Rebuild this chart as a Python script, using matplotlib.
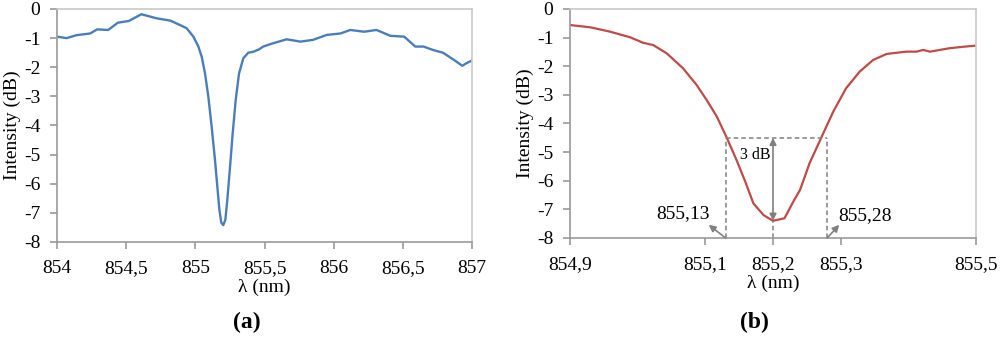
import matplotlib
matplotlib.use("Agg")
import matplotlib.pyplot as plt

plt.rcParams['font.family'] = ['Liberation Serif', 'DejaVu Serif']

# Panel (a) data
wl_a = [854.00, 854.07, 854.14, 854.24, 854.29, 854.37, 854.44, 854.52, 854.61, 854.72,
        854.82, 854.889, 854.937, 854.986, 855.022, 855.046, 855.070, 855.094, 855.118,
        855.142, 855.159, 855.174, 855.188, 855.202, 855.217, 855.231, 855.251, 855.270,
        855.292, 855.316, 855.347, 855.383, 855.419, 855.463, 855.49, 855.56,
        855.66, 855.76, 855.85, 855.95, 856.05, 856.12, 856.22, 856.31, 856.41, 856.51,
        856.59, 856.65, 856.72, 856.79, 856.87, 856.93, 856.96, 857.00]
int_a = [-0.95, -1.00, -0.90, -0.84, -0.70, -0.72, -0.47, -0.41, -0.18, -0.32,
         -0.40, -0.55, -0.66, -0.95, -1.29, -1.64, -2.21, -3.01, -4.04,
         -5.18, -6.10, -6.90, -7.34, -7.42, -7.24, -6.56, -5.41, -4.27,
         -3.12, -2.21, -1.69, -1.50, -1.47, -1.38, -1.29, -1.18,
         -1.04, -1.12, -1.06, -0.89, -0.84, -0.72, -0.78, -0.72, -0.92, -0.95,
         -1.29, -1.29, -1.41, -1.50, -1.75, -1.95, -1.86, -1.77]

# Panel (b) data
wl_b = [854.900, 854.930, 854.959, 854.989, 855.008, 855.023, 855.043, 855.067, 855.087,
        855.102, 855.117, 855.131, 855.146, 855.159, 855.171, 855.186, 855.200, 855.217,
        855.230, 855.240, 855.254, 855.272, 855.289, 855.308, 855.328, 855.348, 855.368,
        855.397, 855.412, 855.422, 855.432, 855.461, 855.481, 855.500]
int_b = [-0.56, -0.64, -0.79, -0.99, -1.18, -1.26, -1.55, -2.07, -2.65,
         -3.18, -3.76, -4.46, -5.27, -6.03, -6.79, -7.20, -7.40, -7.31,
         -6.73, -6.32, -5.39, -4.46, -3.59, -2.77, -2.19, -1.78, -1.57,
         -1.49, -1.49, -1.43, -1.49, -1.37, -1.32, -1.28]

xticks_a = [854, 854.5, 855, 855.5, 856, 856.5, 857]
xlabels_a = ['854', '854,5', '855', '855,5', '856', '856,5', '857']
xticks_b = [854.9, 855.1, 855.2, 855.3, 855.5]
xlabels_b = ['854,9', '855,1', '855,2', '855,3', '855,5']
yticks = [0, -1, -2, -3, -4, -5, -6, -7, -8]
ylabels = ['0', '-1', '-2', '-3', '-4', '-5', '-6', '-7', '-8']

fwhm_left, fwhm_right, center, half_level, min_level = 855.13, 855.28, 855.2, -4.5, -7.40

fig = plt.figure(figsize=(10, 3.37), dpi=100)
ax1 = fig.add_axes([0.057, 0.2819, 0.415, 0.6914])
ax2 = fig.add_axes([0.570, 0.2938, 0.406, 0.6795])

fs = 14
for ax in (ax1, ax2):
    ax.set_ylim(-8, 0)
    ax.set_yticks(yticks)
    ax.set_yticklabels(ylabels, fontsize=fs)
    for s in ('top', 'right'):
        ax.spines[s].set_color('#c8c8c8')
    for s in ('left', 'bottom'):
        ax.spines[s].set_color('#9a9a9a')
    for s in ax.spines.values():
        s.set_linewidth(1.2)
    ax.tick_params(axis='both', direction='out', length=5, width=1.2, color='#9a9a9a')
    ax.tick_params(axis='x', pad=8)
    ax.tick_params(axis='y', pad=7)
    ax.set_ylabel('Intensity (dB)', fontsize=fs, labelpad=2)
    ax.set_xlabel('λ (nm)', fontsize=fs, labelpad=1)

ax1.plot(wl_a, int_a, color='#4a7ebb', lw=1.7)
ax1.set_xlim(854, 857)
ax1.set_xticks(xticks_a)
ax1.set_xticklabels(xlabels_a, fontsize=fs)

ax2.plot(wl_b, int_b, color='#be4b48', lw=1.6)
ax2.set_xlim(854.9, 855.5)
ax2.set_xticks(xticks_b)
ax2.set_xticklabels(xlabels_b, fontsize=fs)

gray = '#808080'
dash = dict(color=gray, lw=1.1, dashes=(3, 2))
ax2.plot([fwhm_left, fwhm_right], [half_level, half_level], **dash)
ax2.plot([fwhm_left, fwhm_left], [-8, half_level], **dash)
ax2.plot([fwhm_right, fwhm_right], [-8, half_level], **dash)
ax2.plot([center, center], [-8, min_level], **dash)
ax2.annotate('', xy=(center, min_level), xytext=(center, half_level),
             arrowprops=dict(arrowstyle='<|-|>', color=gray, lw=1.2, mutation_scale=10,
                             shrinkA=0, shrinkB=0))
ax2.text(855.174, -5.1, '3 dB', fontsize=11.5, ha='center', va='center')
ax2.annotate('', xy=(855.105, -7.54), xytext=(fwhm_left, -8),
             arrowprops=dict(arrowstyle='-|>', color=gray, lw=1.2, mutation_scale=10,
                             shrinkA=0, shrinkB=0))
ax2.annotate('', xy=(855.298, -7.54), xytext=(fwhm_right, -8),
             arrowprops=dict(arrowstyle='-|>', color=gray, lw=1.2, mutation_scale=10,
                             shrinkA=0, shrinkB=0))
ax2.text(855.067, -7.14, '855,13', fontsize=fs, ha='center', va='center')
ax2.text(855.336, -7.23, '855,28', fontsize=fs, ha='center', va='center')

fig.text(0.247, 0.042, '(a)', fontsize=17, fontweight='bold', ha='center', va='center')
fig.text(0.754, 0.042, '(b)', fontsize=17, fontweight='bold', ha='center', va='center')

fig.savefig('out.png', dpi=100)
